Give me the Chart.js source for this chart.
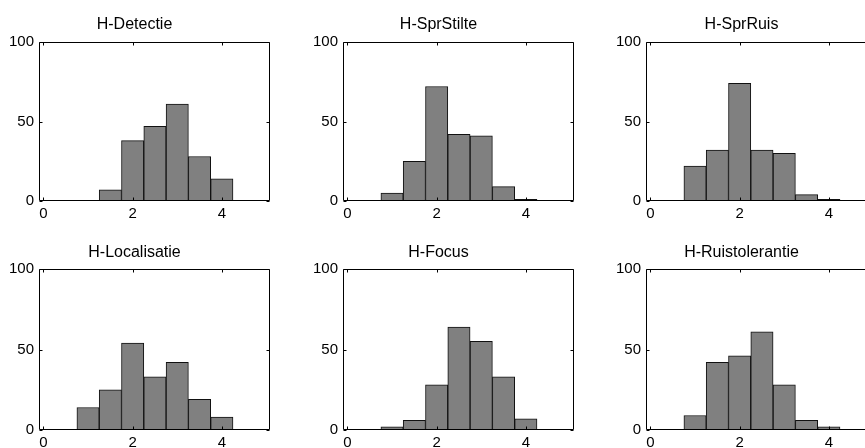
<!DOCTYPE html>
<html>
<head>
<meta charset="utf-8">
<script src="https://cdn.jsdelivr.net/npm/chart.js@4"></script>
<style>
  html, body { margin: 0; padding: 0; background: #fff; }
  #wrap { position: relative; width: 865px; height: 448px; overflow: hidden; }
  canvas { position: absolute; }
</style>
</head>
<body>
<div id="wrap"></div>
<script>
// histogrammen: klassen van 0.5 breed, middens 0.5 .. 4.5
const BIN_CENTERS = [0.5, 1, 1.5, 2, 2.5, 3, 3.5, 4, 4.5];
const TITLES = ["H-Detectie", "H-SprStilte", "H-SprRuis", "H-Localisatie", "H-Focus", "H-Ruistolerantie"];
const H_DETECTIE = [0, 0, 7, 38, 47, 61, 28, 14, 0];
const H_SPRSTILTE = [0, 5, 25, 72, 42, 41, 9, 1, 0];
const H_SPRRUIS = [0, 22, 32, 74, 32, 30, 4, 1, 0];
const H_LOCALISATIE = [0, 14, 25, 54, 33, 42, 19, 8, 0];
const H_FOCUS = [0, 2, 6, 28, 64, 55, 33, 7, 0];
const H_RUISTOLERANTIE = [0, 9, 42, 46, 61, 28, 6, 2, 0];
const X_TICKS = [0, 2, 4];
const Y_TICKS = [0, 50, 100];

const SERIES = [H_DETECTIE, H_SPRSTILTE, H_SPRRUIS, H_LOCALISATIE, H_FOCUS, H_RUISTOLERANTIE];

// plaatsing (pixels op de pagina)
const COL_LEFT = [39, 343, 646];
const PLOT_W = 231;
const ROWS = [
  { canvasTop: 0, plotTop: 42, plotBottom: 201, titleY: 25 },
  { canvasTop: 224, plotTop: 269, plotBottom: 430, titleY: 252.5 },
];
const MARGIN = 40;   // ruimte links (y-labels) en rechts
const CANVAS_H = 224;
const TICK_LEN = 3;

Chart.defaults.font.family = "'Liberation Sans', Arial, sans-serif";
Chart.defaults.font.size = 15;
Chart.defaults.color = "#000";

// kader met naar binnen gerichte streepjes, zoals in MATLAB
const boxPlugin = {
  id: "matlabBox",
  afterDatasetsDraw(chart) {
    const { ctx, chartArea: a, scales } = chart;
    const l = Math.round(a.left) + 0.5, r = Math.round(a.right) - 0.5;
    const t = Math.round(a.top) + 0.5, b = Math.round(a.bottom) - 0.5;
    ctx.save();
    ctx.strokeStyle = "#000";
    ctx.lineWidth = 1;
    ctx.beginPath();
    ctx.rect(l, t, r - l, b - t);
    X_TICKS.forEach((v) => {
      const px = Math.round(scales.x.getPixelForValue(v)) + 0.5;
      ctx.moveTo(px, b); ctx.lineTo(px, b - TICK_LEN);
      ctx.moveTo(px, t); ctx.lineTo(px, t + TICK_LEN);
    });
    Y_TICKS.forEach((v) => {
      const py = Math.round(scales.y.getPixelForValue(v)) + 0.5;
      ctx.moveTo(l, py); ctx.lineTo(l + TICK_LEN, py);
      ctx.moveTo(r, py); ctx.lineTo(r - TICK_LEN, py);
    });
    ctx.stroke();
    ctx.restore();
  },
};

const wrap = document.getElementById("wrap");

SERIES.forEach((counts, i) => {
  const row = ROWS[Math.floor(i / 3)];
  const col = i % 3;
  const canvas = document.createElement("canvas");
  const w = MARGIN + PLOT_W + MARGIN;
  canvas.width = w;
  canvas.height = CANVAS_H;
  canvas.style.width = w + "px";
  canvas.style.height = CANVAS_H + "px";
  canvas.style.left = (COL_LEFT[col] - MARGIN) + "px";
  canvas.style.top = row.canvasTop + "px";
  wrap.appendChild(canvas);

  const plotTop = row.plotTop - row.canvasTop;
  const plotBottom = row.plotBottom - row.canvasTop;
  const titleLine = 16 * 1.2;
  const titlePadTop = row.titleY - row.canvasTop - titleLine / 2;

  new Chart(canvas, {
    type: "bar",
    data: {
      datasets: [{
        data: BIN_CENTERS.map((x, k) => ({ x, y: counts[k] })),
        backgroundColor: "#808080",
        borderColor: "#111",
        borderWidth: 1,
        borderSkipped: false,
        categoryPercentage: 1,
        barPercentage: 1,
      }],
    },
    options: {
      responsive: false,
      animation: false,
      devicePixelRatio: 1,
      layout: { padding: { left: 0, right: MARGIN, top: 0, bottom: 0 } },
      plugins: {
        legend: { display: false },
        tooltip: { enabled: false },
        title: {
          display: true,
          text: TITLES[i],
          font: { size: 16, weight: "normal" },
          color: "#000",
          padding: { top: titlePadTop, bottom: plotTop - titlePadTop - titleLine },
        },
      },
      scales: {
        x: {
          type: "linear",
          offset: false,
          min: -0.1,
          max: 5.08,
          grid: { display: false, drawTicks: false },
          border: { display: false },
          ticks: { padding: 4 },
          afterBuildTicks: (s) => { s.ticks = X_TICKS.map((v) => ({ value: v })); },
          afterFit: (s) => { s.height = CANVAS_H - plotBottom; },
        },
        y: {
          min: 0,
          max: 100,
          grid: { display: false, drawTicks: false },
          border: { display: false },
          ticks: { padding: 5 },
          afterBuildTicks: (s) => { s.ticks = Y_TICKS.map((v) => ({ value: v })); },
          afterFit: (s) => { s.width = MARGIN; },
        },
      },
    },
    plugins: [boxPlugin],
  });
});
</script>
</body>
</html>
